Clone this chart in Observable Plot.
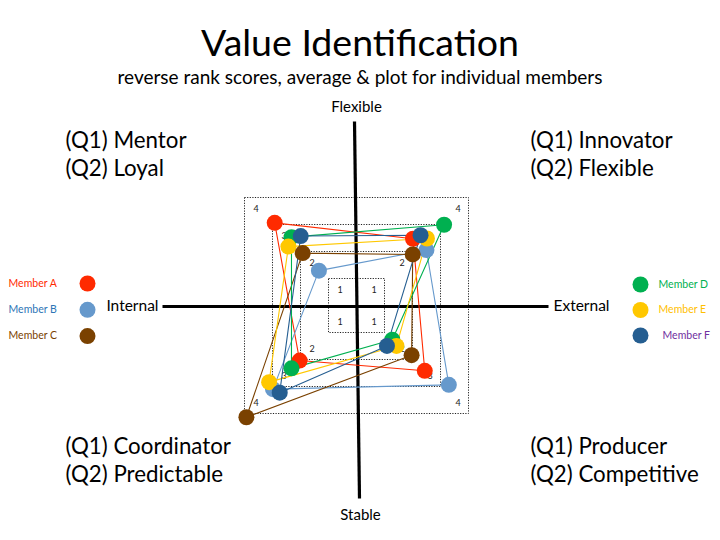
<!DOCTYPE html>
<html><head><meta charset="utf-8">
<script src="https://cdn.jsdelivr.net/npm/d3@7"></script>
<script src="https://cdn.jsdelivr.net/npm/@observablehq/plot@0.6"></script>
<style>
body{margin:0;background:#fff;font-family:Lato,"Open Sans",sans-serif;}
#head{position:relative;width:720px;height:95px;}
#title{position:absolute;left:0;width:720px;top:21px;text-align:center;font-size:37.5px;line-height:42px;color:#000;}
#sub{position:absolute;left:0;width:720px;top:66px;text-align:center;font-size:19px;line-height:22px;color:#000;}
#chart svg{display:block;}
</style></head><body>
<div id="head"><div id="title">Value Identification</div><div id="sub">reverse rank scores, average &amp; plot for individual members</div></div>
<div id="chart"></div>
<script>
// ---- data ----
const members = ["Member A","Member B","Member C","Member D","Member E","Member F"];
const dotColors = ["#ff2a00","#6699cc","#7a4100","#00b050","#ffc800","#255e91"];
const textColors = ["#ff2a00","#2e75b6","#7a4100","#00b050","#ffc000","#7030a0"];
// quadrant scores (x = Internal(-)/External(+), y = Stable(-)/Flexible(+))
const mentorX      = [-2.94,-1.36,-1.94,-2.34,-2.45,-2.01];   // top-left
const mentorY      = [ 3.08, 1.31, 1.96, 2.55, 2.20, 2.59];
const innovatorX   = [ 2.00, 2.48, 1.99, 3.11, 2.50, 2.27];   // top-right
const innovatorY   = [ 2.49, 2.07, 1.91, 3.01, 2.50, 2.62];
const producerX    = [ 2.42, 3.28, 1.95, 1.26, 1.41, 1.07];   // bottom-right
const producerY    = [-2.40,-2.92,-1.82,-1.25,-1.48,-1.48];
const coordinatorX = [-2.05,-3.00,-3.95,-2.34,-3.14,-2.76];   // bottom-left
const coordinatorY = [-2.02,-3.08,-4.12,-2.31,-2.82,-3.21];
const levels = [1,2,3,4];
const levelLabels = ["1","2","3","4"];
const quadrantLabels = [["(Q1) Mentor","(Q2) Loyal"],["(Q1) Innovator","(Q2) Flexible"],["(Q1) Coordinator","(Q2) Predictable"],["(Q1) Producer","(Q2) Competitive"]];
const axisLabels = ["Flexible","Stable","Internal","External"];

// ---- layout helpers (page pixels -> data units) ----
const KX = 28, KY = 27, TOP = 95;
const X = px => (px - 356.5) / KX;
const Y = py => (305.5 - py) / KY;

const pts = [];
members.forEach((m, i) => {
  const seq = [[mentorX[i],mentorY[i]],[innovatorX[i],innovatorY[i]],[producerX[i],producerY[i]],[coordinatorX[i],coordinatorY[i]],[mentorX[i],mentorY[i]]];
  seq.forEach(([x,y],k) => pts.push({member:m, color:dotColors[i], x, y, k}));
});
const drawOrder = [1,0,3,4,2,5];
const dots = [];
drawOrder.forEach(i => {
  [[mentorX,mentorY],[innovatorX,innovatorY],[producerX,producerY],[coordinatorX,coordinatorY]].forEach(([ax,ay]) =>
    dots.push({x:ax[i], y:ay[i], color:dotColors[i]}));
});

const legend = members.map((m,i) => {
  const left = i < 3, j = i % 3;
  return {m, i, dotX: left ? X(87) : X(640), y: Y(left ? 283 + j*26.3 : 284 + j*25.5),
          tx: left ? X(8) : X(i === 5 ? 662 : 658), dot: dotColors[i], tc: textColors[i]};
});

const corner = (sx, sy) => Plot.text(levels, {x: d => sx*d, y: d => sy*d, text: (d,i) => levelLabels[i],
  dx: -11*sx, dy: 11*sy, fontSize: 9, fill: "#222"});

const quad = [
  {x:X(65), y:Y(140), t:quadrantLabels[0][0]},{x:X(65), y:Y(168), t:quadrantLabels[0][1]},
  {x:X(530), y:Y(140), t:quadrantLabels[1][0]},{x:X(530), y:Y(168), t:quadrantLabels[1][1]},
  {x:X(65), y:Y(446), t:quadrantLabels[2][0]},{x:X(65), y:Y(474), t:quadrantLabels[2][1]},
  {x:X(530), y:Y(446), t:quadrantLabels[3][0]},{x:X(530), y:Y(474), t:quadrantLabels[3][1]}
];
const axTextMid = [
  {x:X(356), y:Y(107), t:axisLabels[0]},
  {x:X(360), y:Y(515), t:axisLabels[1]}
];
const axTextLeft = [{x:X(158), y:Y(306), t:axisLabels[2]}];
const axTextRight = [{x:X(553), y:Y(306), t:axisLabels[3]}];
const axes = [
  {x1:X(162), y1:Y(306), x2:X(548), y2:Y(306)},
  {x1:X(354), y1:Y(121), x2:X(359), y2:Y(498)}
];

const chart = Plot.plot({
  width: 720, height: 540 - TOP, margin: 0,
  x: {domain: [X(0), X(720)], axis: null},
  y: {domain: [Y(540), Y(TOP)], axis: null},
  color: {type: "identity"},
  style: {fontFamily: "Lato, 'Open Sans', sans-serif", background: "white", overflow: "visible"},
  marks: [
    Plot.rect(levels, {x1: d => -d, x2: d => d, y1: d => -d, y2: d => d, fill: "none",
      stroke: "#222", strokeWidth: 1, strokeDasharray: "1.2,1.4"}),
    corner(-1, 1), corner(1, 1), corner(-1, -1), corner(1, -1),
    Plot.link(axes, {x1:"x1", y1:"y1", x2:"x2", y2:"y2", stroke:"#000", strokeWidth:3.2}),
    Plot.line(pts, {x:"x", y:"y", z:"member", stroke:"color", strokeWidth:1.1, curve:"linear"}),
    Plot.dot(dots, {x:"x", y:"y", r:8, fill:"color", stroke:"none"}),
    Plot.dot(legend, {x:"dotX", y:"y", r:8, fill:"dot"}),
    Plot.text(legend, {x:"tx", y:"y", text:"m", fill:"tc", fontSize:10.5, textAnchor:"start"}),
    Plot.text(quad, {x:"x", y:"y", text:"t", fontSize:22.3, textAnchor:"start", fill:"#000"}),
    Plot.text(axTextMid, {x:"x", y:"y", text:"t", fontSize:15, textAnchor:"middle", fill:"#000"}),
    Plot.text(axTextLeft, {x:"x", y:"y", text:"t", fontSize:15.5, textAnchor:"end", fill:"#000"}),
    Plot.text(axTextRight, {x:"x", y:"y", text:"t", fontSize:15.5, textAnchor:"start", fill:"#000"})
  ]
});
document.getElementById("chart").appendChild(chart);
</script>
</body></html>
